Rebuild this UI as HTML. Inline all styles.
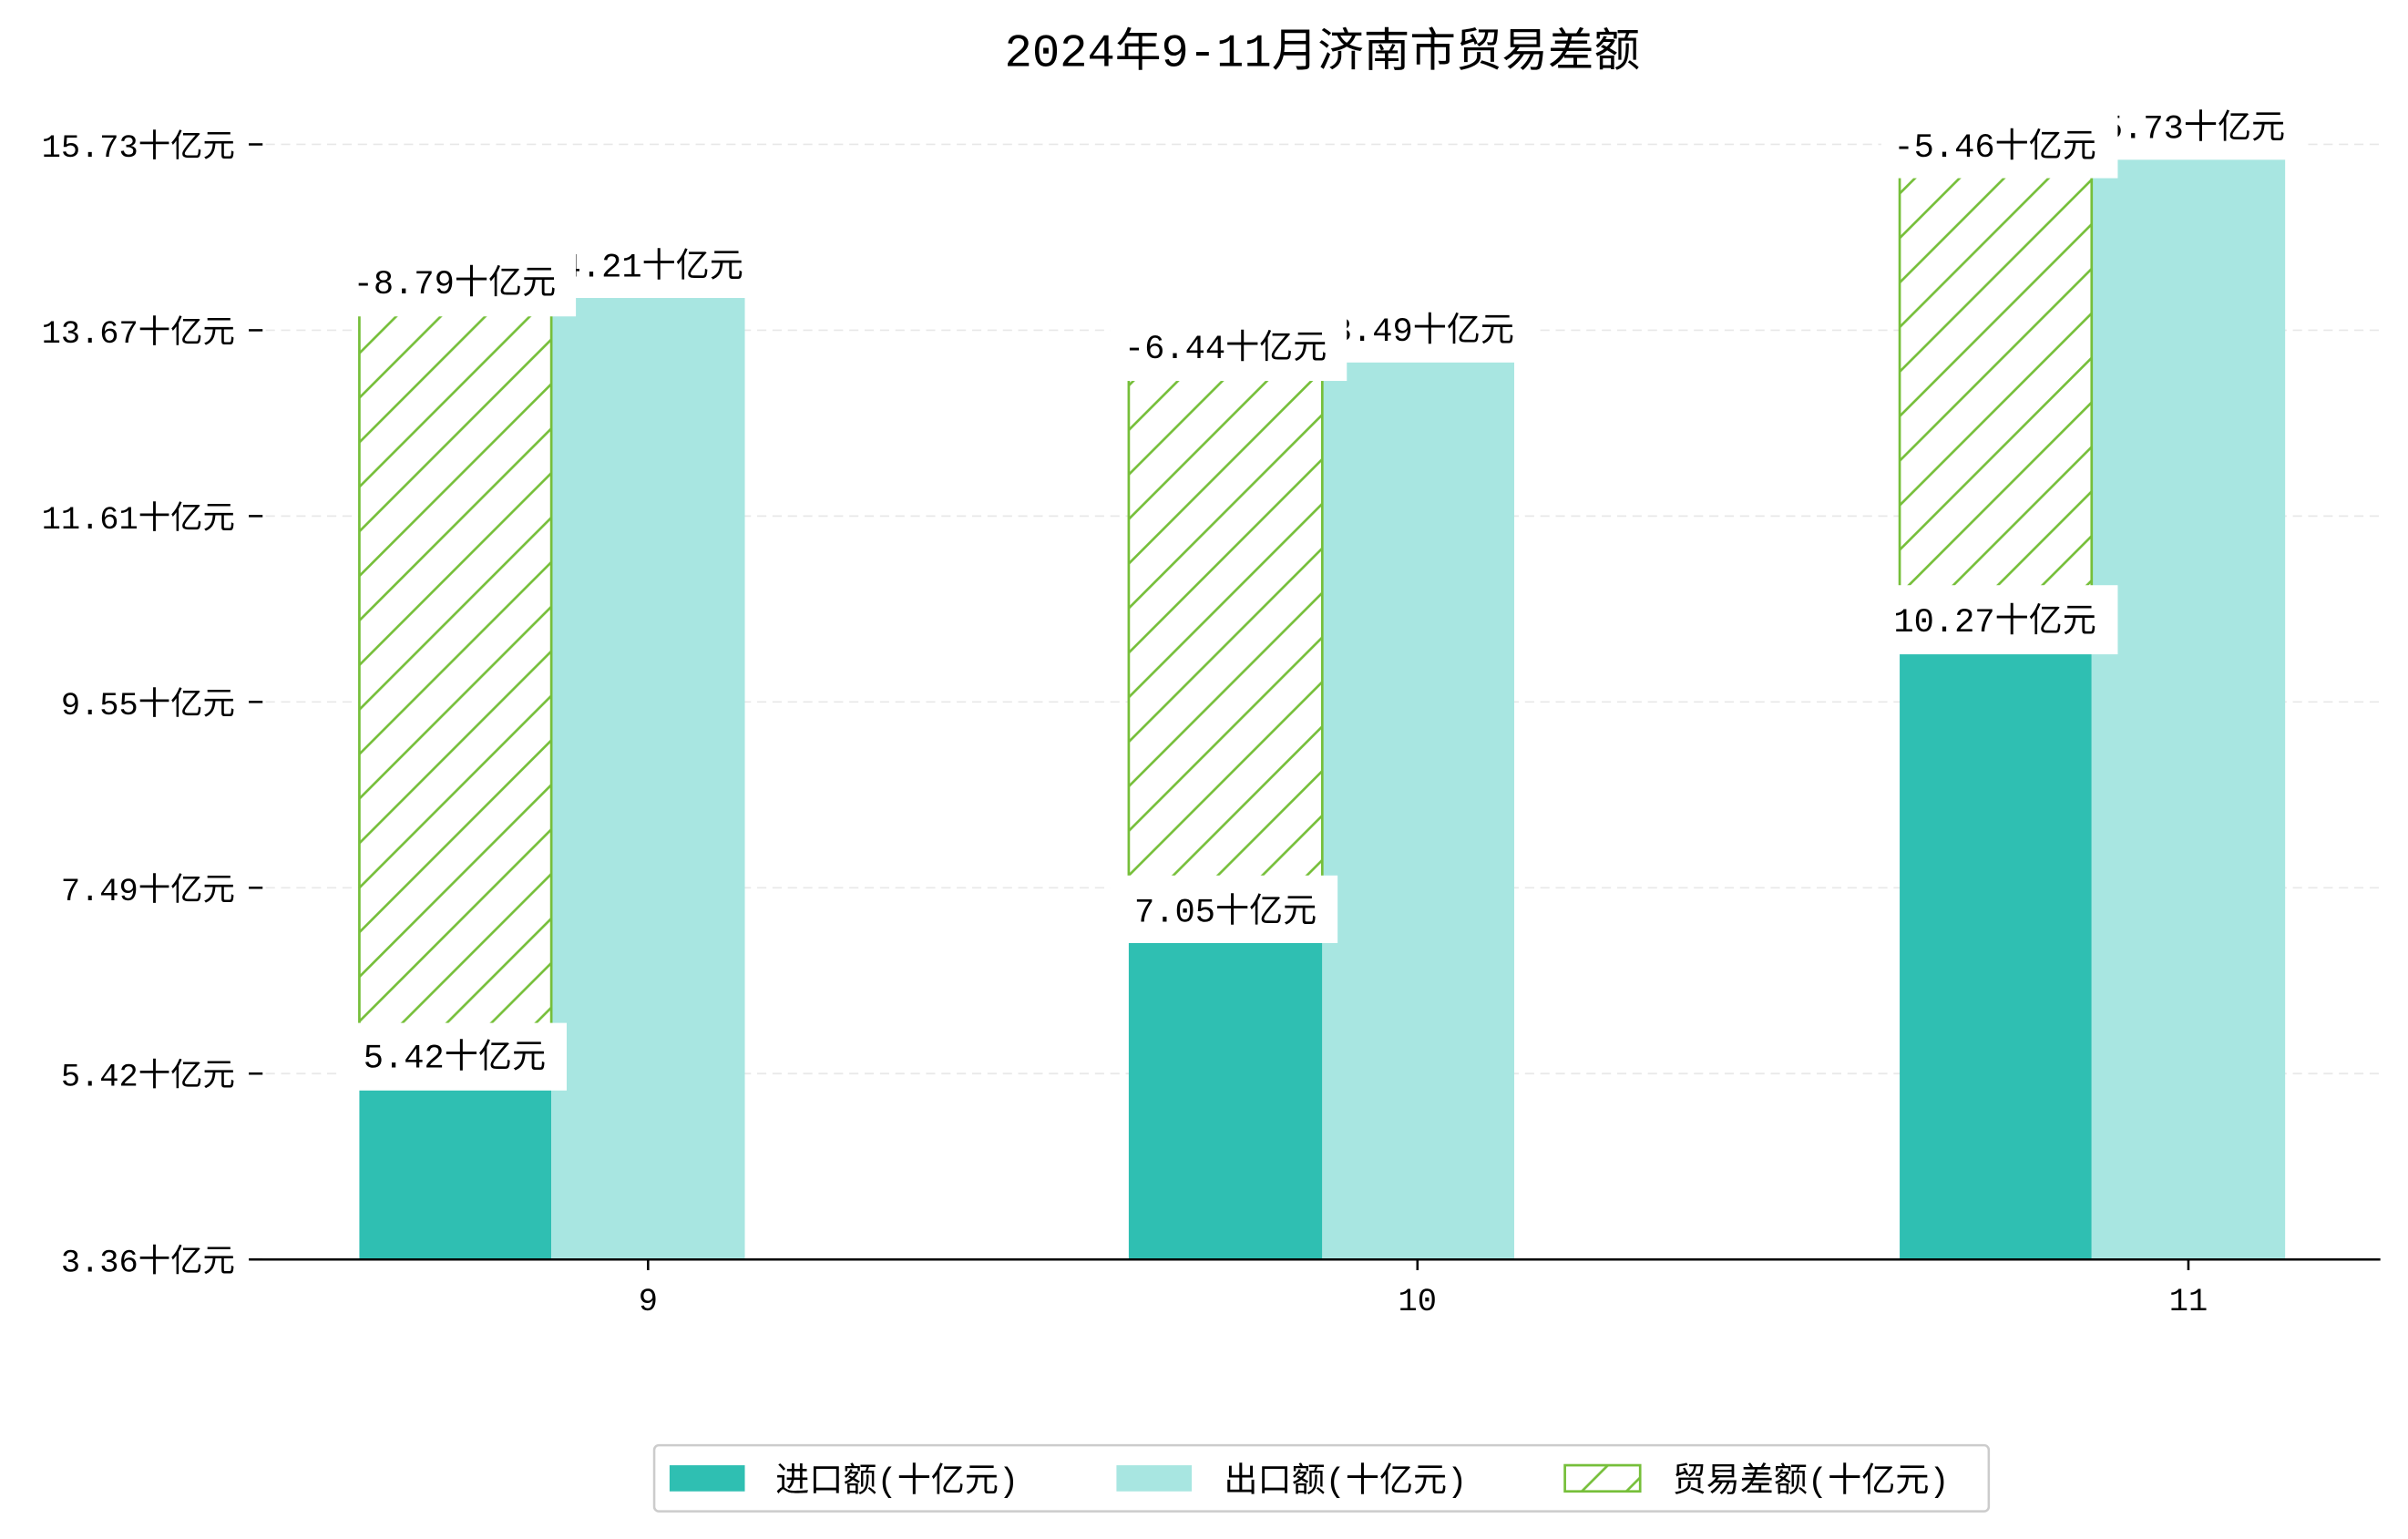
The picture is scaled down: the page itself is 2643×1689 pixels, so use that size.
<!DOCTYPE html>
<html><head><meta charset="utf-8"><style>
html,body{margin:0;padding:0;background:#fff;}
svg{display:block;}
text{font-family:"Liberation Mono","Noto Sans CJK SC",monospace;fill:#000;}
</style></head><body>
<svg width="2643" height="1689" viewBox="0 0 1568 1002" xmlns="http://www.w3.org/2000/svg">
<defs>
<pattern id="h" patternUnits="userSpaceOnUse" width="29" height="29">
<rect width="29" height="29" fill="#fff"/>
<path d="M-2,31 L31,-2 M-2,2 L2,-2 M27,31 L31,27" stroke="#76bf3a" stroke-width="1.6"/>
</pattern>
</defs>
<text x="861" y="43" font-size="30" text-anchor="middle">2024年9-11月济南市贸易差额</text>
<g stroke="#e8e8e8" stroke-dasharray="6,4" stroke-width="1">
<line x1="163" x2="1550" y1="94" y2="94"/><line x1="163" x2="1550" y1="215" y2="215"/>
<line x1="163" x2="1550" y1="336" y2="336"/><line x1="163" x2="1550" y1="457" y2="457"/>
<line x1="163" x2="1550" y1="578" y2="578"/><line x1="163" x2="1550" y1="699" y2="699"/>
</g>
<g stroke="#000" stroke-width="1.5">
<line x1="162" x2="171" y1="94" y2="94"/><line x1="162" x2="171" y1="215" y2="215"/>
<line x1="162" x2="171" y1="336" y2="336"/><line x1="162" x2="171" y1="457" y2="457"/>
<line x1="162" x2="171" y1="578" y2="578"/><line x1="162" x2="171" y1="699" y2="699"/>
<line x1="162" x2="171" y1="820" y2="820"/>
</g>
<g font-size="21" text-anchor="end">
<text x="153" y="102">15.73十亿元</text><text x="153" y="223">13.67十亿元</text>
<text x="153" y="344">11.61十亿元</text><text x="153" y="465">9.55十亿元</text>
<text x="153" y="586">7.49十亿元</text><text x="153" y="707">5.42十亿元</text>
<text x="153" y="828">3.36十亿元</text>
</g>
<g>
<rect x="234" y="699" width="125" height="121" fill="#2fbfb2"/>
<rect x="359" y="183" width="126" height="637" fill="#a8e6e1"/>
<rect x="234" y="183" width="125" height="516" fill="url(#h)" stroke="#76bf3a" stroke-width="1.6"/>
<rect x="735" y="603" width="126" height="217" fill="#2fbfb2"/>
<rect x="861" y="225" width="125" height="595" fill="#a8e6e1"/>
<rect x="735" y="225" width="126" height="378" fill="url(#h)" stroke="#76bf3a" stroke-width="1.6"/>
<rect x="1237" y="414" width="125" height="406" fill="#2fbfb2"/>
<rect x="1362" y="94" width="126" height="726" fill="#a8e6e1"/>
<rect x="1237" y="94" width="125" height="320" fill="url(#h)" stroke="#76bf3a" stroke-width="1.6"/>
</g>
<g font-size="22" text-anchor="middle">
<rect x="346" y="150" width="152" height="44" fill="#fff"/><text x="418" y="180">14.21十亿元</text>
<rect x="222" y="161" width="153" height="45" fill="#fff"/><text x="296" y="191">-8.79十亿元</text>
<rect x="222" y="666" width="147" height="44" fill="#fff"/><text x="296" y="695">5.42十亿元</text>
<rect x="848" y="192" width="152" height="44" fill="#fff"/><text x="920" y="222">13.49十亿元</text>
<rect x="723" y="203" width="154" height="45" fill="#fff"/><text x="798" y="233">-6.44十亿元</text>
<rect x="723" y="570" width="148" height="44" fill="#fff"/><text x="798" y="600">7.05十亿元</text>
<rect x="1350" y="60" width="152" height="44" fill="#fff"/><text x="1422" y="90">15.73十亿元</text>
<rect x="1225" y="72" width="154" height="44" fill="#fff"/><text x="1299" y="102">-5.46十亿元</text>
<rect x="1225" y="381" width="154" height="45" fill="#fff"/><text x="1299" y="411">10.27十亿元</text>
</g>
<line x1="163" x2="1550" y1="820" y2="820" stroke="#000" stroke-width="1.5"/>
<g stroke="#000" stroke-width="1.5">
<line x1="422" x2="422" y1="820" y2="827"/><line x1="923" x2="923" y1="820" y2="827"/><line x1="1425" x2="1425" y1="820" y2="827"/>
</g>
<g font-size="21" text-anchor="middle">
<text x="422" y="853">9</text><text x="923" y="853">10</text><text x="1425" y="853">11</text>
</g>
<rect x="426" y="941" width="869" height="43" rx="3" fill="#fff" stroke="#ccc" stroke-width="1.5"/>
<rect x="436" y="954" width="49" height="17" fill="#2fbfb2"/>
<text x="505" y="971" font-size="22">进口额(十亿元)</text>
<rect x="727" y="954" width="49" height="17" fill="#a8e6e1"/>
<text x="797" y="971" font-size="22">出口额(十亿元)</text>
<rect x="1019" y="954" width="49" height="17" fill="url(#h)" stroke="#76bf3a" stroke-width="1.6"/>
<text x="1089" y="971" font-size="22">贸易差额(十亿元)</text>
</svg>
</body></html>
